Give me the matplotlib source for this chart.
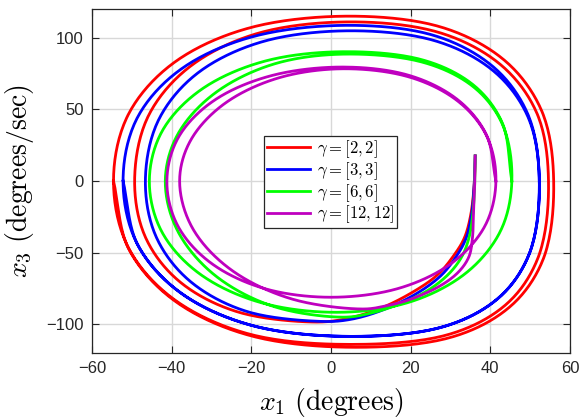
import numpy as np
import matplotlib
matplotlib.use("Agg")
import matplotlib.pyplot as plt

plt.rcParams['mathtext.fontset'] = 'cm'
plt.rcParams['font.family'] = ['Liberation Sans', 'DejaVu Sans']

# puntos (x1 en grados, x3 en grados/seg), en el orden de la trayectoria
red_x1 = [36.2, 36.0, 35.1, 33.5, 31.0, 26.8, 20.9, 12.6, 4.0, -4.0,
          -23.1, -37.2, -46.2, -49.3, -45.6, -34.7, -17.9, 5.0, 26.9, 41.9, 51.4, 54.6,
          51.7, 43.2, 29.1, 5.0, -20.1, -38.6, -50.5, -54.6, -50.5, -38.6, -20.1, 5.0,
          27.5, 42.9, 52.6, 55.9, 53.0, 44.2, 29.8, 5.0, -20.1, -38.6, -50.5, -54.6]
red_x3 = [17.5, 0.0, -23.3, -39.6, -51.3, -65.3, -76.9, -88.6, -96.0, -98.4,
          -91.6, -72.0, -41.5, 0.0, 46.8, 81.3, 103.4, 111.0, 103.8, 82.7, 49.1, 0.0,
          -55.5, -87.9, -107.4, -114.0, -107.1, -84.2, -48.4, 0.0, 48.4, 84.2, 107.1, 115.0,
          107.5, 85.7, 50.8, 0.0, -56.4, -89.4, -109.3, -116.0, -108.0, -84.9, -48.9, 0.0]

blue_x1 = [36.2, 36.0, 35.3, 33.9, 31.6, 27.6, 21.5, 13.0, 5.0, -2.0,
           -20.8, -34.6, -43.5, -46.6, -43.0, -32.8, -16.7, 5.0, 25.9, 40.2, 49.2, 52.3,
           49.5, 41.2, 27.5, 4.0, -19.7, -37.1, -48.3, -52.2, -48.3, -36.9, -19.1, 5.0,
           25.9, 40.2, 49.2, 52.3, 49.5, 41.2, 27.5, 4.0, -19.7, -37.1, -48.3, -52.2]
blue_x3 = [17.5, 0.0, -23.3, -40.0, -52.0, -66.0, -78.5, -90.0, -96.5, -98.0,
           -91.3, -71.7, -41.3, 0.0, 44.2, 76.7, 97.6, 104.8, 98.0, 78.1, 46.3, 0.0,
           -52.7, -83.6, -102.2, -108.4, -100.9, -79.3, -45.7, 0.0, 45.8, 79.5, 101.1, 108.6,
           101.5, 80.9, 48.0, 0.0, -52.7, -83.6, -102.2, -108.4, -100.9, -79.3, -45.7, 0.0]

green_x1 = [36.2, 36.1, 35.6, 34.6, 32.8, 29.5, 24.5, 18.0, 10.0, 3.0,
            -14.1, -28.5, -38.2, -41.6, -38.2, -28.5, -14.1, 3.0, 22.7, 35.1, 42.8, 45.4,
            42.2, 33.1, 19.1, 1.5, -17.4, -32.4, -42.2, -45.6, -42.1, -32.0, -16.5, 3.0,
            22.7, 35.1, 42.8, 45.4]
green_x3 = [17.5, 0.0, -23.0, -40.0, -53.0, -65.0, -76.0, -85.0, -92.2, -95.0,
            -87.8, -67.2, -36.4, 0.0, 33.9, 62.6, 81.8, 88.5, 83.1, 67.1, 41.0, 0.0,
            -36.8, -65.9, -85.0, -91.6, -85.0, -65.9, -36.8, 0.0, 36.2, 64.9, 83.7, 90.2,
            84.7, 68.4, 41.8, 0.0]

purple_x1 = [36.2, 36.1, 35.8, 35.5, 34.6, 32.0, 27.5, 20.0, 14.0, 8.0,
             -9.6, -24.5, -34.5, -38.0, -34.9, -26.0, -12.7, 3.0, 19.2, 31.1, 38.8, 41.4,
             38.4, 29.8, 16.6, 0.0, -16.5, -29.6, -38.2, -41.2, -38.0, -28.8, -14.7, 3.0,
             19.2, 31.1, 38.8, 41.4]
purple_x3 = [17.5, 0.0, -20.0, -40.0, -53.0, -63.5, -73.0, -82.5, -87.0, -89.3,
             -82.5, -63.1, -34.2, 0.0, 30.0, 55.4, 72.3, 78.3, 72.9, 57.3, 33.0, 0.0,
             -32.6, -58.3, -75.2, -81.1, -75.2, -58.3, -32.6, 0.0, 31.9, 57.2, 73.7, 79.5,
             74.0, 58.2, 33.5, 0.0]

series = [
    (red_x1, red_x3, '#ff0000', r'$\gamma=[2,2]$'),
    (blue_x1, blue_x3, '#0000ff', r'$\gamma=[3,3]$'),
    (green_x1, green_x3, '#00ff00', r'$\gamma=[6,6]$'),
    (purple_x1, purple_x3, '#bf00bf', r'$\gamma=[12,12]$'),
]


def suavizar(xs, ys, n=20):
    # Catmull-Rom centripeta que pasa por los puntos leidos (solo para que la linea salga lisa)
    esc = np.array([50.0, 100.0])
    P = np.column_stack([xs, ys]).astype(float) / esc
    P = np.vstack([2 * P[0] - P[1], P, 2 * P[-1] - P[-2]])
    partes = []
    for i in range(1, len(P) - 2):
        p0, p1, p2, p3 = P[i - 1], P[i], P[i + 1], P[i + 2]
        t0 = 0.0
        t1 = t0 + np.linalg.norm(p1 - p0) ** 0.5
        t2 = t1 + np.linalg.norm(p2 - p1) ** 0.5
        t3 = t2 + np.linalg.norm(p3 - p2) ** 0.5
        t = np.linspace(t1, t2, n, endpoint=False)[:, None]
        a1 = (t1 - t) / (t1 - t0) * p0 + (t - t0) / (t1 - t0) * p1
        a2 = (t2 - t) / (t2 - t1) * p1 + (t - t1) / (t2 - t1) * p2
        a3 = (t3 - t) / (t3 - t2) * p2 + (t - t2) / (t3 - t2) * p3
        b1 = (t2 - t) / (t2 - t0) * a1 + (t - t0) / (t2 - t0) * a2
        b2 = (t3 - t) / (t3 - t1) * a2 + (t - t1) / (t3 - t1) * a3
        partes.append((t2 - t) / (t2 - t1) * b1 + (t - t1) / (t2 - t1) * b2)
    partes.append(P[-2][None])
    C = np.vstack(partes) * esc
    return C[:, 0], C[:, 1]


fig = plt.figure(figsize=(5.81, 4.19), dpi=100)
ax = fig.add_axes([92 / 581, 1 - 353 / 419, 478 / 581, 344 / 419])

for xs, ys, col, lab in series:
    sx, sy = suavizar(xs, ys)
    ax.plot(sx, sy, color=col, lw=2.0, label=lab)

ax.set_xlim(-60, 60)
ax.set_ylim(-120, 120)
ax.set_xticks(np.arange(-60, 61, 20))
ax.set_yticks([-100, -50, 0, 50, 100])
ax.grid(True, color='#d8d8d8', lw=1.0)
ax.set_axisbelow(True)
ax.tick_params(direction='in', top=True, right=True, length=5, width=0.8,
               colors='#262626', labelsize=12, pad=6)
for s in ax.spines.values():
    s.set_color('#262626')
    s.set_linewidth(0.9)

ax.set_xlabel(r'$x_1\ \mathrm{(degrees)}$', fontsize=20, labelpad=7)
ax.set_ylabel(r'$x_3\ \mathrm{(degrees/sec)}$', fontsize=20, labelpad=7)

leg = ax.legend(loc='upper left', bbox_to_anchor=(0.36, 0.631), fontsize=12,
                fancybox=False, framealpha=1, edgecolor='#262626', handlelength=2.6,
                borderpad=0.15, labelspacing=0.0, handletextpad=0.4, borderaxespad=0)
leg.get_frame().set_linewidth(0.9)
for l in leg.get_lines():
    l.set_linewidth(2.0)

fig.savefig('out.png', dpi=100)
